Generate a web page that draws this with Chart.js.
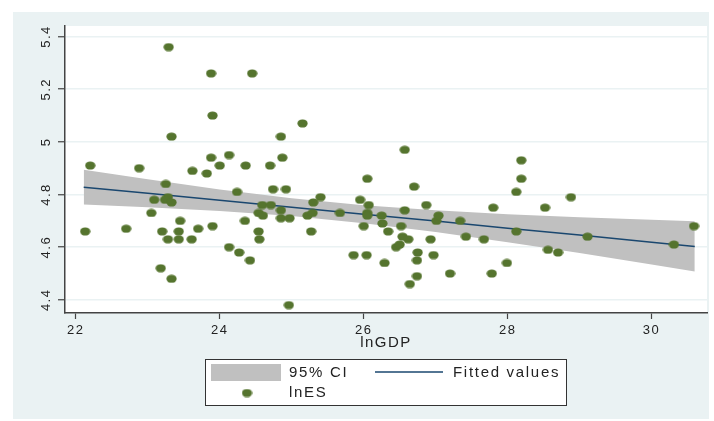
<!DOCTYPE html>
<html>
<head>
<meta charset="utf-8">
<script src="https://cdn.jsdelivr.net/npm/chart.js@4.4.1/dist/chart.umd.min.js"></script>
<style>
  html, body { margin: 0; padding: 0; background: #fff; }
</style>
</head>
<body>
<canvas id="chart" width="714" height="421"></canvas>
<script>
// scatter: lnGDP (x) against lnES (y)
const lnGDP = [22.13, 22.20, 22.70, 22.88, 23.05, 23.09, 23.18, 23.20, 23.25, 23.28,
  23.24, 23.33, 23.28, 23.29, 23.33, 23.33, 23.45, 23.43, 23.43, 23.62,
  23.61, 23.70, 23.82, 23.88, 23.88, 23.90, 23.90, 24.00, 24.13, 24.13,
  24.24, 24.27, 24.35, 24.36, 24.42, 24.45, 24.54, 24.55, 24.54, 24.60,
  24.59, 24.71, 24.70, 24.74, 24.85, 24.87, 24.92, 24.85, 24.85, 24.97,
  24.96, 25.15, 25.22, 25.29, 25.27, 25.30, 25.40, 25.67, 25.86, 25.95,
  26.00, 26.05, 26.04, 26.07, 26.05, 26.05, 26.25, 26.26, 26.29, 26.34,
  26.45, 26.50, 26.52, 26.54, 26.62, 26.57, 26.57, 26.64, 26.70, 26.75,
  26.74, 26.74, 26.87, 26.93, 26.97, 27.01, 27.04, 27.20, 27.34, 27.42,
  27.67, 27.78, 27.80, 27.99, 28.12, 28.12, 28.19, 28.19, 28.52, 28.56,
  28.70, 28.88, 29.11, 30.31, 30.59];
const lnES = [4.66, 4.91, 4.67, 4.90, 4.73, 4.78, 4.52, 4.66, 4.84, 4.79,
  4.78, 4.77, 4.63, 5.36, 5.02, 4.48, 4.70, 4.66, 4.63, 4.89,
  4.63, 4.67, 4.88, 5.26, 4.94, 5.10, 4.68, 4.91, 4.95, 4.60,
  4.81, 4.58, 4.70, 4.91, 4.55, 5.26, 4.66, 4.63, 4.73, 4.72,
  4.76, 4.76, 4.91, 4.82, 5.02, 4.94, 4.82, 4.74, 4.71, 4.71,
  4.38, 5.07, 4.72, 4.73, 4.66, 4.77, 4.79, 4.73, 4.57, 4.78,
  4.68, 4.86, 4.57, 4.76, 4.73, 4.72, 4.72, 4.69, 4.54, 4.66,
  4.60, 4.61, 4.68, 4.64, 4.63, 4.97, 4.74, 4.46, 4.83, 4.58,
  4.55, 4.49, 4.76, 4.63, 4.57, 4.70, 4.72, 4.50, 4.70, 4.64,
  4.63, 4.50, 4.75, 4.54, 4.81, 4.66, 4.93, 4.86, 4.75, 4.59,
  4.58, 4.79, 4.64, 4.61, 4.68];

// fitted line and 95% CI band
const fitX   = [22.11, 23, 24, 25, 26, 27, 28, 29, 30, 30.6];
const fitY   = [4.828, 4.805, 4.778, 4.752, 4.725, 4.699, 4.672, 4.646, 4.619, 4.603];
const ciLow  = [4.762, 4.752, 4.737, 4.718, 4.691, 4.658, 4.619, 4.578, 4.534, 4.508];
const ciHigh = [4.894, 4.858, 4.819, 4.786, 4.759, 4.740, 4.725, 4.714, 4.704, 4.698];

const FONT = '"Liberation Sans", Arial, sans-serif';
const GREEN = '#55742E';
const NAVY = '#1A476F';
const BAND = '#C0C0C0';

// Stata-style oval marker
const dot = document.createElement('canvas');
dot.width = 11; dot.height = 9;
const dc = dot.getContext('2d');
dc.fillStyle = GREEN;
dc.beginPath();
dc.ellipse(5.5, 4.5, 5.1, 4.1, 0, 0, Math.PI * 2);
dc.fill();

const pts = (xs, ys) => xs.map((x, i) => ({x: x, y: ys[i]}));

const frame = {
  id: 'frame',
  beforeDraw(chart) {
    const {ctx, chartArea: a} = chart;
    ctx.save();
    ctx.fillStyle = '#fff';
    ctx.fillRect(0, 0, chart.width, chart.height);
    ctx.fillStyle = '#EAF2F3';
    ctx.fillRect(13, 12, 696, 407);
    ctx.fillStyle = '#fff';
    ctx.fillRect(a.left, a.top, a.right - a.left, a.bottom - a.top);
    ctx.restore();
    ctx.letterSpacing = '1.5px';
  },
  afterDraw(chart) {
    const ctx = chart.ctx;
    ctx.save();
    ctx.fillStyle = '#fff';
    ctx.fillRect(205.5, 359.5, 361, 46);
    ctx.strokeStyle = '#333';
    ctx.lineWidth = 1;
    ctx.strokeRect(205.5, 359.5, 361, 46);

    ctx.fillStyle = BAND;
    ctx.fillRect(211, 364, 70, 17);

    ctx.strokeStyle = NAVY;
    ctx.lineWidth = 1.5;
    ctx.beginPath();
    ctx.moveTo(375, 372);
    ctx.lineTo(443, 372);
    ctx.stroke();

    ctx.drawImage(dot, 241.5, 388.5);

    ctx.font = '15px ' + FONT;
    ctx.letterSpacing = '1.7px';
    ctx.fillStyle = '#222';
    ctx.textBaseline = 'middle';
    ctx.textAlign = 'left';
    ctx.fillText('95% CI', 289, 373);
    ctx.fillText('Fitted values', 453, 373);
    ctx.fillText('lnES', 289, 393);
    ctx.restore();
  }
};

new Chart('chart', {
  type: 'scatter',
  data: {
    datasets: [{
      label: 'lnES',
      data: pts(lnGDP, lnES),
      pointStyle: dot,
      pointRadius: 5,
      order: 0
    }, {
      label: 'Fitted values',
      type: 'line',
      data: pts(fitX, fitY),
      borderColor: NAVY,
      borderWidth: 1.5,
      pointRadius: 0,
      fill: false,
      tension: 0,
      order: 1
    }, {
      label: '95% CI',
      type: 'line',
      data: pts(fitX, ciHigh),
      borderColor: 'rgba(0,0,0,0)',
      backgroundColor: BAND,
      pointRadius: 0,
      fill: 3,
      order: 2
    }, {
      label: 'ci low',
      type: 'line',
      data: pts(fitX, ciLow),
      borderColor: 'rgba(0,0,0,0)',
      pointRadius: 0,
      fill: false,
      order: 3
    }]
  },
  options: {
    responsive: false,
    animation: false,
    events: [],
    layout: { padding: { left: 0, top: 26, right: 7, bottom: 58 } },
    plugins: { legend: { display: false }, tooltip: { enabled: false } },
    scales: {
      x: {
        type: 'linear',
        min: 21.85,
        max: 30.77,
        ticks: {
          stepSize: 2,
          includeBounds: false,
          autoSkip: false,
          maxRotation: 0,
          padding: 4,
          color: '#222',
          font: { family: FONT, size: 13 }
        },
        grid: { drawOnChartArea: false, tickLength: 6, tickColor: '#444', tickWidth: 1.2 },
        border: { color: '#444', width: 1.5 },
        title: {
          display: true,
          text: 'lnGDP',
          color: '#222',
          font: { family: FONT, size: 15 },
          padding: { top: 0, bottom: 11 }
        },
        afterFit: s => { s.height = 50; }
      },
      y: {
        type: 'linear',
        min: 4.35,
        max: 5.44,
        ticks: {
          stepSize: 0.2,
          includeBounds: false,
          minRotation: 90,
          maxRotation: 90,
          crossAlign: 'center',
          padding: 3,
          color: '#222',
          font: { family: FONT, size: 13 },
          callback: v => String(+v.toFixed(1))
        },
        grid: { color: '#EAF2F3', lineWidth: 1.5, tickLength: 7, tickColor: '#444', tickWidth: 1.2 },
        border: { color: '#444', width: 1.5 },
        afterFit: s => { s.width = 65; }
      }
    }
  },
  plugins: [frame]
});
</script>
</body>
</html>
